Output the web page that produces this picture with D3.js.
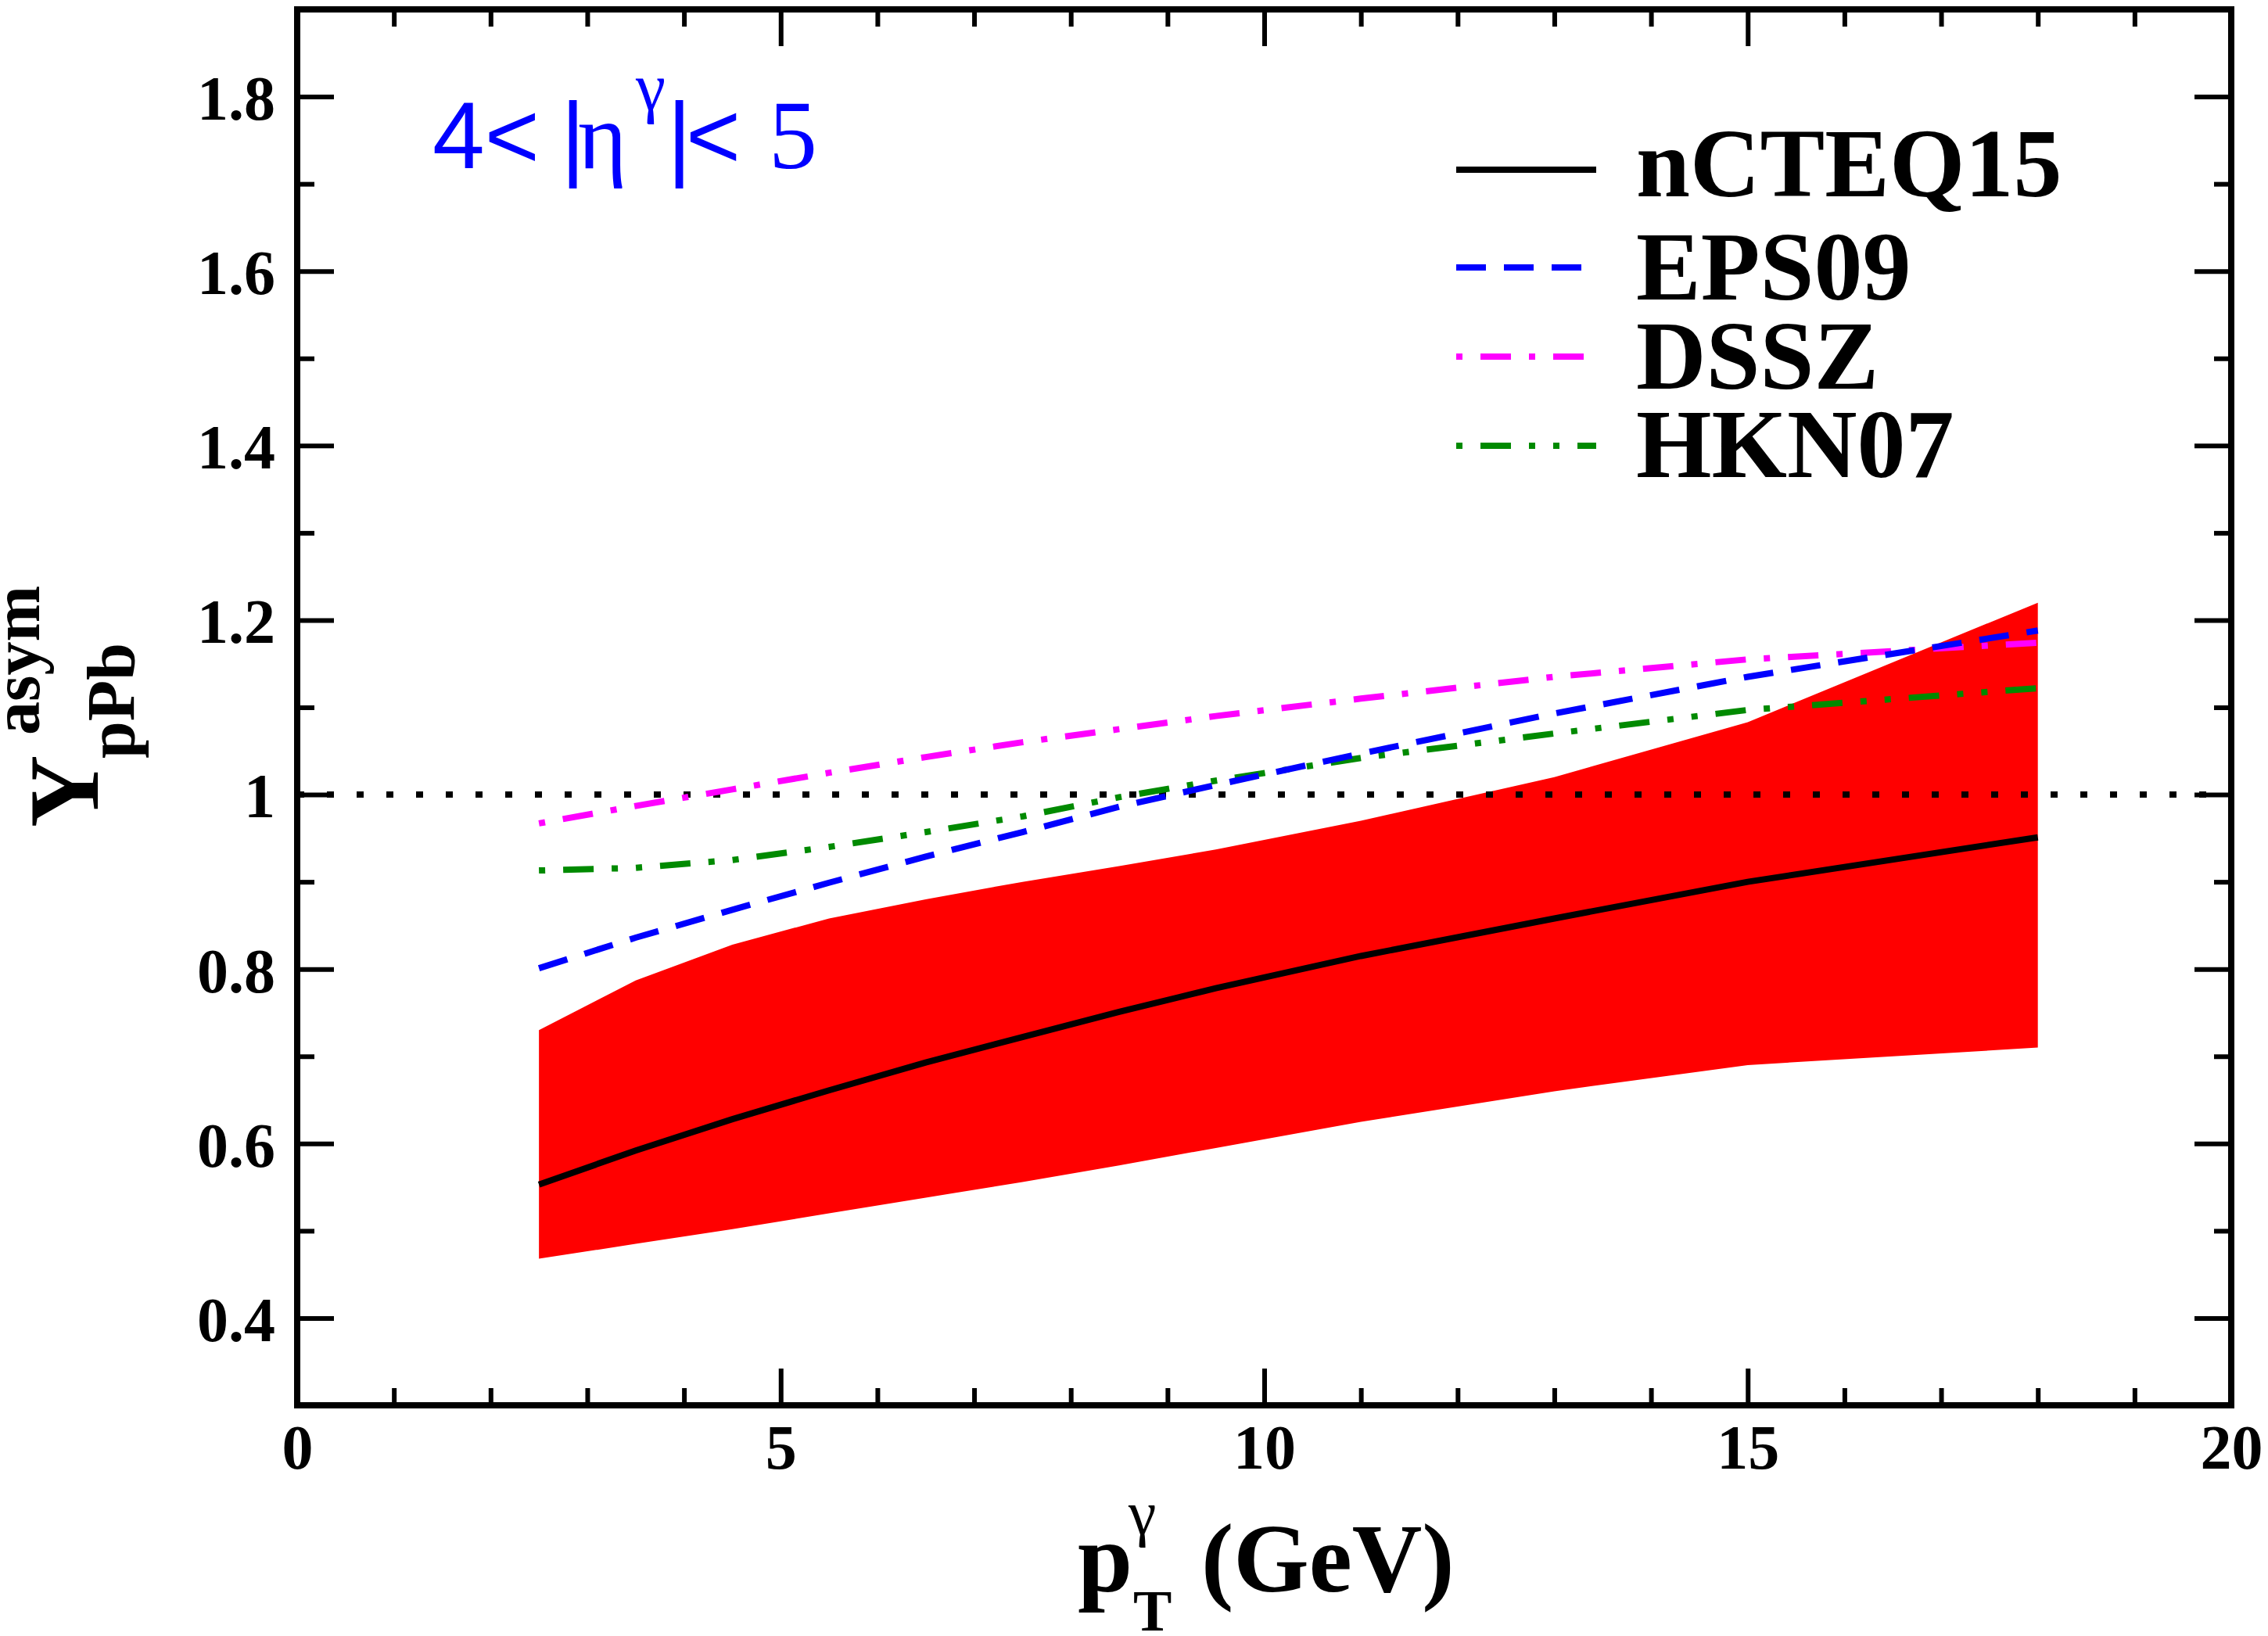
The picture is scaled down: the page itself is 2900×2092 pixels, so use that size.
<!DOCTYPE html>
<html>
<head>
<meta charset="utf-8">
<script src="https://cdn.jsdelivr.net/npm/d3@7"></script>
<style>
html, body { margin: 0; padding: 0; background: #fff; }
svg { display: block; }
</style>
</head>
<body>
<div id="chart"></div>
<script>
// pT bin centres (GeV)
const pT = [2.5, 3.5, 4.5, 5.5, 6.5, 7.5, 8.5, 9.5, 11, 13, 15, 18];

// nCTEQ15 uncertainty band + central value
const bandLow  = [0.468, 0.485, 0.502, 0.520, 0.538, 0.556, 0.575, 0.595, 0.625, 0.660, 0.690, 0.710];
const bandHigh = [0.730, 0.787, 0.828, 0.858, 0.880, 0.900, 0.918, 0.937, 0.970, 1.020, 1.083, 1.220];
const nCTEQ15  = [0.553, 0.592, 0.628, 0.661, 0.693, 0.722, 0.751, 0.778, 0.815, 0.858, 0.900, 0.951];

// other nPDF sets
const EPS09 = [0.801, 0.836, 0.868, 0.899, 0.929, 0.957, 0.986, 1.011, 1.047, 1.093, 1.135, 1.188];
const DSSZ  = [0.967, 0.987, 1.006, 1.025, 1.043, 1.060, 1.075, 1.090, 1.110, 1.135, 1.155, 1.174];
const HKN07 = [0.913, 0.916, 0.925, 0.940, 0.957, 0.975, 0.997, 1.016, 1.042, 1.070, 1.097, 1.122];

// axes
const xMajor = [0, 5, 10, 15, 20];
const xMajorLabels = ["0", "5", "10", "15", "20"];
const xMinor = [1, 2, 3, 4, 6, 7, 8, 9, 11, 12, 13, 14, 16, 17, 18, 19];
const yMajor = [0.4, 0.6, 0.8, 1.0, 1.2, 1.4, 1.6, 1.8];
const yMajorLabels = ["0.4", "0.6", "0.8", "1", "1.2", "1.4", "1.6", "1.8"];
const yMinor = [0.5, 0.7, 0.9, 1.1, 1.3, 1.5, 1.7];

const legendNames = ["nCTEQ15", "EPS09", "DSSZ", "HKN07"];

const width = 2900, height = 2092;
const frame = { left: 380, right: 2853, top: 12, bottom: 1797 };
const serif = "'Liberation Serif', 'Times New Roman', serif";
const sans = "'Liberation Sans', Arial, sans-serif";

const x = d3.scaleLinear().domain([0, 20]).range([frame.left, frame.right]);
const y = d3.scaleLinear().domain([0.3, 1.9]).range([frame.bottom, frame.top]);

const svg = d3.select("#chart").append("svg")
    .attr("width", width)
    .attr("height", height)
    .attr("viewBox", `0 0 ${width} ${height}`);

// red band
const band = pT.map((p, i) => ({ x: p, lo: bandLow[i], hi: bandHigh[i] }));
svg.append("path")
    .datum(band)
    .attr("fill", "#ff0000")
    .attr("d", d3.area().x(d => x(d.x)).y0(d => y(d.lo)).y1(d => y(d.hi)));

// reference line at 1
svg.append("line")
    .attr("x1", x(0)).attr("x2", x(20))
    .attr("y1", y(1)).attr("y2", y(1))
    .attr("stroke", "#000")
    .attr("stroke-width", 8)
    .attr("stroke-dasharray", "9,29");

const series = [
    { name: "nCTEQ15", values: nCTEQ15, color: "#000000", dash: null },
    { name: "EPS09", values: EPS09, color: "#0000ff", dash: "38,23" },
    { name: "DSSZ", values: DSSZ, color: "#ff00ff", dash: "8,23,39,23" },
    { name: "HKN07", values: HKN07, color: "#008a00", dash: "8,23,39,23,8,23" }
];

const line = d3.line().x(d => x(d[0])).y(d => y(d[1]));

// draw dashed ones first, solid black on top
[series[3], series[2], series[1], series[0]].forEach(s => {
    svg.append("path")
        .datum(pT.map((p, i) => [p, s.values[i]]))
        .attr("fill", "none")
        .attr("stroke", s.color)
        .attr("stroke-width", 8)
        .attr("stroke-dasharray", s.dash)
        .attr("d", line);
});

// frame
svg.append("rect")
    .attr("x", frame.left).attr("y", frame.top)
    .attr("width", frame.right - frame.left)
    .attr("height", frame.bottom - frame.top)
    .attr("fill", "none")
    .attr("stroke", "#000")
    .attr("stroke-width", 8);

// ticks (inward, all four sides)
function styleAxis(g) {
    g.select(".domain").remove();
    g.selectAll(".tick line").attr("stroke", "#000").attr("stroke-width", 6);
    g.selectAll("text")
        .attr("font-family", serif)
        .attr("font-weight", "bold")
        .attr("font-size", 80)
        .attr("fill", "#000");
}

svg.append("g")
    .attr("transform", `translate(0,${frame.bottom})`)
    .call(d3.axisBottom(x).tickValues(xMajor).tickSize(-47).tickPadding(24)
        .tickFormat((d, i) => xMajorLabels[i]))
    .call(styleAxis);
svg.append("g")
    .attr("transform", `translate(0,${frame.bottom})`)
    .call(d3.axisBottom(x).tickValues(xMinor).tickSize(-22).tickFormat(""))
    .call(styleAxis);
svg.append("g")
    .attr("transform", `translate(0,${frame.top})`)
    .call(d3.axisTop(x).tickValues(xMajor).tickSize(-47).tickFormat(""))
    .call(styleAxis);
svg.append("g")
    .attr("transform", `translate(0,${frame.top})`)
    .call(d3.axisTop(x).tickValues(xMinor).tickSize(-22).tickFormat(""))
    .call(styleAxis);

svg.append("g")
    .attr("transform", `translate(${frame.left},0)`)
    .call(d3.axisLeft(y).tickValues(yMajor).tickSize(-47).tickPadding(28)
        .tickFormat((d, i) => yMajorLabels[i]))
    .call(styleAxis)
    .call(g => g.selectAll("text").attr("dy", "0.36em"));
svg.append("g")
    .attr("transform", `translate(${frame.left},0)`)
    .call(d3.axisLeft(y).tickValues(yMinor).tickSize(-22).tickFormat(""))
    .call(styleAxis);
svg.append("g")
    .attr("transform", `translate(${frame.right},0)`)
    .call(d3.axisRight(y).tickValues(yMajor).tickSize(-47).tickFormat(""))
    .call(styleAxis);
svg.append("g")
    .attr("transform", `translate(${frame.right},0)`)
    .call(d3.axisRight(y).tickValues(yMinor).tickSize(-22).tickFormat(""))
    .call(styleAxis);

// x axis title: p_T^gamma (GeV)
const xt = svg.append("g")
    .attr("font-family", serif)
    .attr("font-weight", "bold")
    .attr("fill", "#000");
xt.append("text").attr("x", 1378).attr("y", 2035).attr("font-size", 126).text("p");
xt.append("text").attr("x", 1449).attr("y", 2085).attr("font-size", 74).text("T");
xt.append("text").attr("x", 1443).attr("y", 1962).attr("font-size", 80).attr("font-weight", "normal").text("\u03b3");
xt.append("text").attr("x", 1536).attr("y", 2035).attr("font-size", 124).text("(GeV)");

// y axis title: Y_pPb^asym (rotated)
const yt = svg.append("g")
    .attr("transform", "translate(125,1058) rotate(-90)")
    .attr("font-family", serif)
    .attr("font-weight", "bold")
    .attr("fill", "#000");
yt.append("text").attr("x", 0).attr("y", 0).attr("font-size", 128).text("Y");
yt.append("text").attr("x", 88).attr("y", 46).attr("font-size", 86).text("pPb");
yt.append("text").attr("x", 118).attr("y", -75).attr("font-size", 86).text("asym");

// rapidity annotation
const ann = svg.append("g").attr("fill", "#0000ff");
ann.append("text").attr("x", 553).attr("y", 215).attr("font-family", sans).attr("font-size", 120).text("4<");
ann.append("text").attr("x", 717).attr("y", 215).attr("font-family", sans).attr("font-size", 120).text("|");
ann.append("text").attr("x", 739).attr("y", 215).attr("font-family", serif).attr("font-size", 120).text("\u03b7");
ann.append("text").attr("x", 813).attr("y", 140).attr("font-family", serif).attr("font-size", 86).text("\u03b3");
ann.append("text").attr("x", 853).attr("y", 215).attr("font-family", sans).attr("font-size", 120).text("|");
ann.append("text").attr("x", 877).attr("y", 215).attr("font-family", sans).attr("font-size", 120).text("<");
ann.append("text").attr("x", 983).attr("y", 215).attr("font-family", serif).attr("font-size", 124).text("5");

// legend
const legendLineY = [217, 342, 456, 570];
const legendTextY = [251, 383, 497, 610];
const legend = svg.append("g");
series.forEach((s, i) => {
    legend.append("line")
        .attr("x1", 1862).attr("x2", 2041)
        .attr("y1", legendLineY[i]).attr("y2", legendLineY[i])
        .attr("stroke", s.color)
        .attr("stroke-width", 8)
        .attr("stroke-dasharray", s.dash);
    legend.append("text")
        .attr("x", 2092).attr("y", legendTextY[i])
        .attr("font-family", serif)
        .attr("font-weight", "bold")
        .attr("font-size", 124)
        .attr("fill", "#000")
        .text(legendNames[i]);
});
</script>
</body>
</html>
